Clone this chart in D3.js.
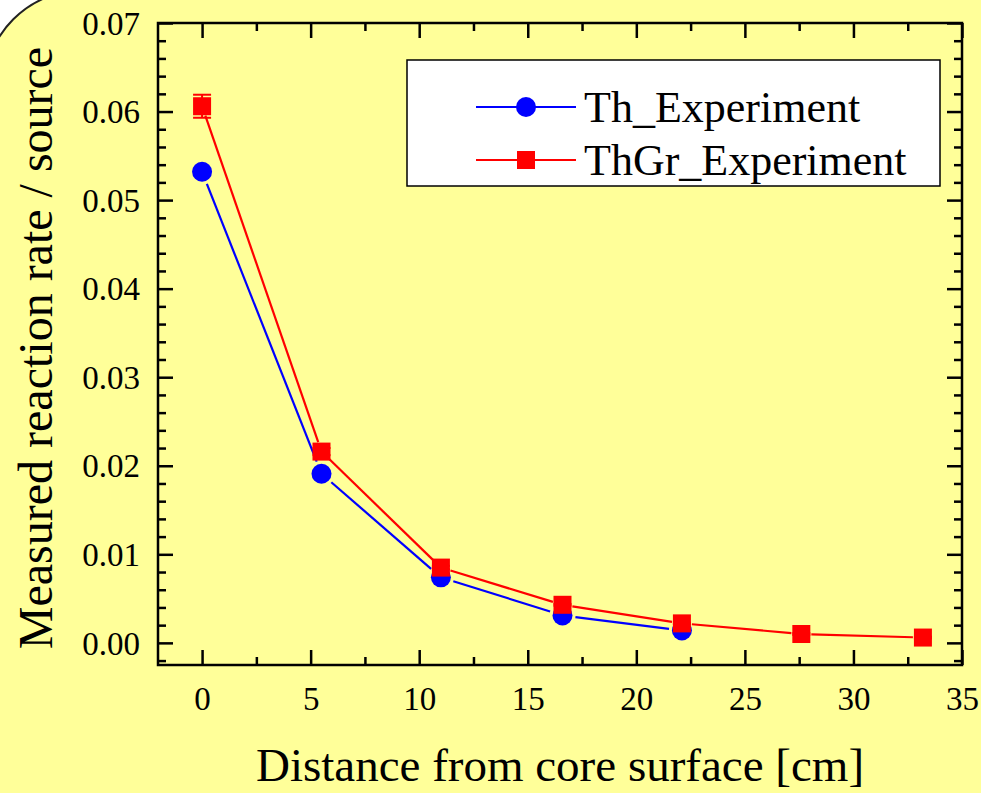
<!DOCTYPE html>
<html>
<head>
<meta charset="utf-8">
<title>Measured reaction rate</title>
<style>
body { margin: 0; background: #fff; }
svg { display: block; font-family: "Liberation Serif", "Times New Roman", serif; }
.axis line { stroke: #000; stroke-width: 2.5; }
</style>
</head>
<body>
<script src="https://d3js.org/d3.v7.min.js"></script>
<script>

// data
const thX = [0, 5.5, 11, 16.6, 22.1];
const thY = [0.0532, 0.0191, 0.0074, 0.0031, 0.0014];
const thgrX = [0, 5.5, 11, 16.6, 22.1, 27.6, 33.2];
const thgrY = [0.0606, 0.0216, 0.0085, 0.0043, 0.0022, 0.0010, 0.0006];
const thgrErr = [0.0013, 0.0004, 0.0002, 0.0001, 0.0001, 0.0001, 0.0001];
const xTicks = [0, 5, 10, 15, 20, 25, 30, 35];
const yTicks = [0.00, 0.01, 0.02, 0.03, 0.04, 0.05, 0.06, 0.07];
const seriesNames = ["Th_Experiment", "ThGr_Experiment"];

const W = 981, H = 793;
const plot = {left: 158, right: 962, top: 23, bottom: 665};
const serif = "'Liberation Serif', 'Times New Roman', serif";

const svg = d3.select("body").append("svg")
    .attr("width", W)
    .attr("height", H);

// yellow panel, only its top-left rounded corner shows
svg.append("path")
    .attr("d", "M-16,2000 L-16,90 A100,100 0 0 1 84,-10 L2000,-10 L2000,2000 Z")
    .attr("fill", "#ffff99")
    .attr("stroke", "#222")
    .attr("stroke-width", 2);

const x = d3.scaleLinear().domain([-2.03, 35]).range([plot.left, plot.right]);
const y = d3.scaleLinear().domain([-0.0025, 0.07]).range([plot.bottom, plot.top]);

const xMinor = d3.range(2.5, 35, 5);
const yMinor = d3.range(-0.002, 0.0701, 0.002).filter(v => Math.abs(Math.round(v * 100) - v * 100) > 1e-6);

function addAxis(gen, tr, vals, size, fmt) {
  const g = svg.append("g")
      .attr("class", "axis")
      .attr("transform", tr)
      .call(gen.tickValues(vals).tickSize(size).tickSizeOuter(0).tickFormat(fmt));
  g.select(".domain").remove();
  g.attr("font-family", serif).attr("font-size", 33);
  g.selectAll("text").attr("fill", "#000").style("font-family", serif);
  return g;
}

// major ticks (inward) on all four sides
addAxis(d3.axisBottom(x), "translate(0," + plot.bottom + ")", xTicks, -15, d3.format("d"))
    .selectAll("text").attr("dy", "0").attr("y", 45);
addAxis(d3.axisTop(x), "translate(0," + plot.top + ")", xTicks, -15, "");
addAxis(d3.axisLeft(y), "translate(" + plot.left + ",0)", yTicks, -15, d3.format(".2f"))
    .selectAll("text").attr("x", -18).attr("dy", "0.34em");
addAxis(d3.axisRight(y), "translate(" + plot.right + ",0)", yTicks, -15, "");

// minor ticks
addAxis(d3.axisBottom(x), "translate(0," + plot.bottom + ")", xMinor, -8, "");
addAxis(d3.axisTop(x), "translate(0," + plot.top + ")", xMinor, -8, "");
addAxis(d3.axisLeft(y), "translate(" + plot.left + ",0)", yMinor, -8, "");
addAxis(d3.axisRight(y), "translate(" + plot.right + ",0)", yMinor, -8, "");

// frame
svg.append("rect")
    .attr("x", plot.left).attr("y", plot.top)
    .attr("width", plot.right - plot.left)
    .attr("height", plot.bottom - plot.top)
    .attr("fill", "none")
    .attr("stroke", "#000")
    .attr("stroke-width", 2.5);

// line segments with small gaps around markers
function drawSeries(xs, ys, color, gap) {
  const pts = xs.map((d, i) => [x(d), y(ys[i])]);
  const segs = d3.pairs(pts);
  svg.append("g").selectAll("line")
    .data(segs)
    .enter().append("line")
      .each(function(s) {
        const dx = s[1][0] - s[0][0], dy = s[1][1] - s[0][1];
        const len = Math.hypot(dx, dy);
        const ux = dx / len, uy = dy / len;
        d3.select(this)
          .attr("x1", s[0][0] + ux * gap).attr("y1", s[0][1] + uy * gap)
          .attr("x2", s[1][0] - ux * gap).attr("y2", s[1][1] - uy * gap);
      })
      .attr("stroke", color)
      .attr("stroke-width", 2.2);
  return pts;
}

const bluePts = drawSeries(thX, thY, "#0000ff", 13);
svg.append("g").selectAll("circle")
    .data(bluePts)
  .enter().append("circle")
    .attr("cx", d => d[0]).attr("cy", d => d[1])
    .attr("r", 10)
    .attr("fill", "#0000ff");

const redPts = drawSeries(thgrX, thgrY, "#ff0000", 10);

// error bars for the red series
const eb = svg.append("g").attr("stroke", "#ff0000").attr("stroke-width", 2);
thgrX.forEach((d, i) => {
  const cx = x(d), y0 = y(thgrY[i] - thgrErr[i]), y1 = y(thgrY[i] + thgrErr[i]);
  eb.append("line").attr("x1", cx).attr("x2", cx).attr("y1", y0).attr("y2", y1);
  eb.append("line").attr("x1", cx - 9).attr("x2", cx + 9).attr("y1", y0).attr("y2", y0);
  eb.append("line").attr("x1", cx - 9).attr("x2", cx + 9).attr("y1", y1).attr("y2", y1);
});

svg.append("g").selectAll("rect")
    .data(redPts)
  .enter().append("rect")
    .attr("x", d => d[0] - 9).attr("y", d => d[1] - 9)
    .attr("width", 18).attr("height", 18)
    .attr("fill", "#ff0000");

// legend
const lg = svg.append("g");
lg.append("rect")
    .attr("x", 407).attr("y", 60)
    .attr("width", 533).attr("height", 126)
    .attr("fill", "#fff")
    .attr("stroke", "#000")
    .attr("stroke-width", 1.5);

const legendColors = ["#0000ff", "#ff0000"];
seriesNames.forEach((name, i) => {
  const ly = 107 + i * 53;
  lg.append("line")
      .attr("x1", 476).attr("x2", 576)
      .attr("y1", ly).attr("y2", ly)
      .attr("stroke", legendColors[i])
      .attr("stroke-width", 2.2);
  if (i === 0) {
    lg.append("circle").attr("cx", 526).attr("cy", ly).attr("r", 10).attr("fill", legendColors[i]);
  } else {
    lg.append("rect").attr("x", 517).attr("y", ly - 9).attr("width", 18).attr("height", 18).attr("fill", legendColors[i]);
  }
  lg.append("text")
      .attr("x", 584).attr("y", ly)
      .attr("dy", "0.35em")
      .style("font-size", "44px")
      .text(name);
});

// axis titles
svg.append("text")
    .attr("x", (plot.left + plot.right) / 2)
    .attr("y", 781)
    .attr("text-anchor", "middle")
    .style("font-size", "47px")
    .text("Distance from core surface [cm]");

svg.append("text")
    .attr("transform", "translate(52,348) rotate(-90)")
    .attr("text-anchor", "middle")
    .style("font-size", "48px")
    .text("Measured reaction rate / source");

</script>
</body>
</html>
